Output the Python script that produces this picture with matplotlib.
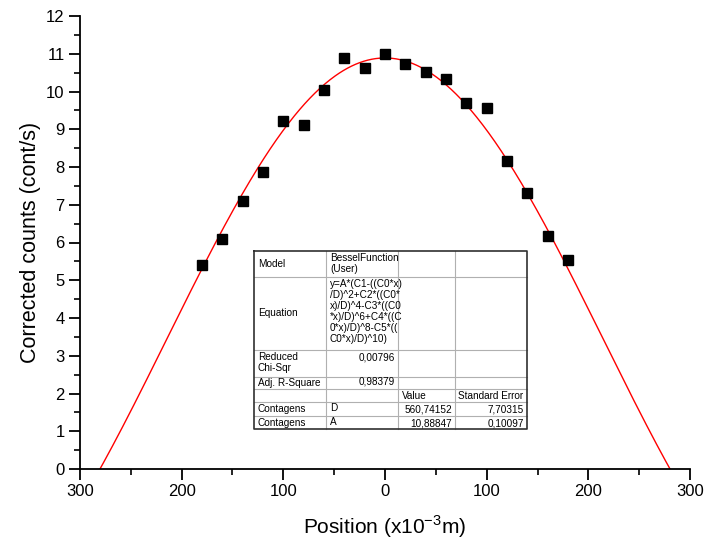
import numpy as np
import matplotlib
matplotlib.use("Agg")
import matplotlib.pyplot as plt
from matplotlib.ticker import MultipleLocator, FuncFormatter
from matplotlib.lines import Line2D

plt.rcParams['font.family'] = ['Liberation Sans', 'DejaVu Sans']

# Data
position = [-180, -160, -140, -120, -100, -80, -60, -40, -20, 0,
            20, 40, 60, 80, 100, 120, 140, 160, 180]
counts = [5.40, 6.09, 7.10, 7.88, 9.22, 9.11, 10.04, 10.90, 10.61, 10.99,
          10.74, 10.52, 10.32, 9.70, 9.56, 8.16, 7.30, 6.18, 5.54]

# Fit parameters (from the table)
fit_D = 560.74152
fit_A = 10.88847
C0 = 2.405

# Fit curve: A * J0 series
xf = np.linspace(-300, 300, 601)
z = 2 * C0 * xf / fit_D
j0 = np.zeros_like(z)
fact = 1.0
for k in range(8):
    if k > 0:
        fact *= k
    j0 += (-1) ** k * (z / 2) ** (2 * k) / fact ** 2
yf = fit_A * j0

fig = plt.figure(figsize=(7.05, 5.43), dpi=100)
ax = fig.add_axes([80 / 705, 1 - 469 / 543, 610 / 705, 453 / 543])

ax.plot(xf, yf, color='red', lw=1.0, zorder=2)
ax.plot(position, counts, 's', color='black', ms=6.5, zorder=3)

ax.set_xlim(-300, 300)
ax.set_ylim(0, 12)
ax.xaxis.set_major_locator(MultipleLocator(100))
ax.xaxis.set_minor_locator(MultipleLocator(50))
ax.yaxis.set_major_locator(MultipleLocator(1))
ax.yaxis.set_minor_locator(MultipleLocator(0.5))
ax.xaxis.set_major_formatter(FuncFormatter(lambda v, p: '%d' % abs(round(v))))
for s in ['top', 'right']:
    ax.spines[s].set_visible(False)
for s in ['left', 'bottom']:
    ax.spines[s].set_linewidth(1.3)
ax.tick_params(which='major', direction='out', length=8, width=1.3, labelsize=12, pad=3)
ax.tick_params(which='minor', direction='out', length=4.5, width=1.2)
ax.set_xlabel('Position (x10$^{\\mathregular{-3}}$m)', fontsize=15, labelpad=10)
ax.set_ylabel('Corrected counts (cont/s)', fontsize=15.5, labelpad=4)

# Results table (pixel coordinates of the figure)
W, H = 705, 543
cols = [254, 326, 398, 455, 527]
rows = [251, 277, 350, 377, 389, 402, 416, 429]


def fx(px):
    return px / W


def fy(py):
    return 1 - py / H


fig.patches.append(plt.Rectangle((fx(cols[0]), fy(rows[-1])), fx(cols[-1] - cols[0]),
                                 (rows[-1] - rows[0]) / H, transform=fig.transFigure,
                                 facecolor='white', edgecolor='none', zorder=4))
for c in cols[1:-1]:
    fig.add_artist(Line2D([fx(c), fx(c)], [fy(rows[0]), fy(rows[-1])], color='#b0b0b0', lw=0.8, zorder=5))
for r in rows[1:-1]:
    fig.add_artist(Line2D([fx(cols[0]), fx(cols[-1])], [fy(r), fy(r)], color='#b0b0b0', lw=0.8, zorder=5))
fig.add_artist(Line2D([fx(cols[0]), fx(cols[-1]), fx(cols[-1]), fx(cols[0]), fx(cols[0])],
                      [fy(rows[0]), fy(rows[0]), fy(rows[-1]), fy(rows[-1]), fy(rows[0])],
                      color='#303030', lw=1.2, zorder=6))

fs = 7.2


def cell(px, py, s, ha='left', va='center'):
    fig.text(fx(px), fy(py), s, ha=ha, va=va, fontsize=fs, zorder=7, linespacing=1.12)


cell(258, 264, 'Model')
cell(330, 253, 'BesselFunction\n(User)', va='top')
cell(258, 313, 'Equation')
cell(330, 279, 'y=A*(C1-((C0*x)\n/D)^2+C2*((C0*\nx)/D)^4-C3*((C0\n*x)/D)^6+C4*((C\n0*x)/D)^8-C5*((\nC0*x)/D)^10)', va='top')
cell(258, 352, 'Reduced\nChi-Sqr', va='top')
cell(395, 352, '0,00796', ha='right', va='top')
cell(258, 383, 'Adj. R-Square')
cell(395, 382, '0,98379', ha='right')
cell(402, 396, 'Value')
cell(458, 396, 'Standard Error')
cell(258, 409, 'Contagens')
cell(330, 408, 'D')
cell(452, 409, '560,74152', ha='right')
cell(524, 409, '7,70315', ha='right')
cell(258, 423, 'Contagens')
cell(330, 422, 'A')
cell(452, 423, '10,88847', ha='right')
cell(524, 423, '0,10097', ha='right')

fig.savefig('out.png', dpi=100)
